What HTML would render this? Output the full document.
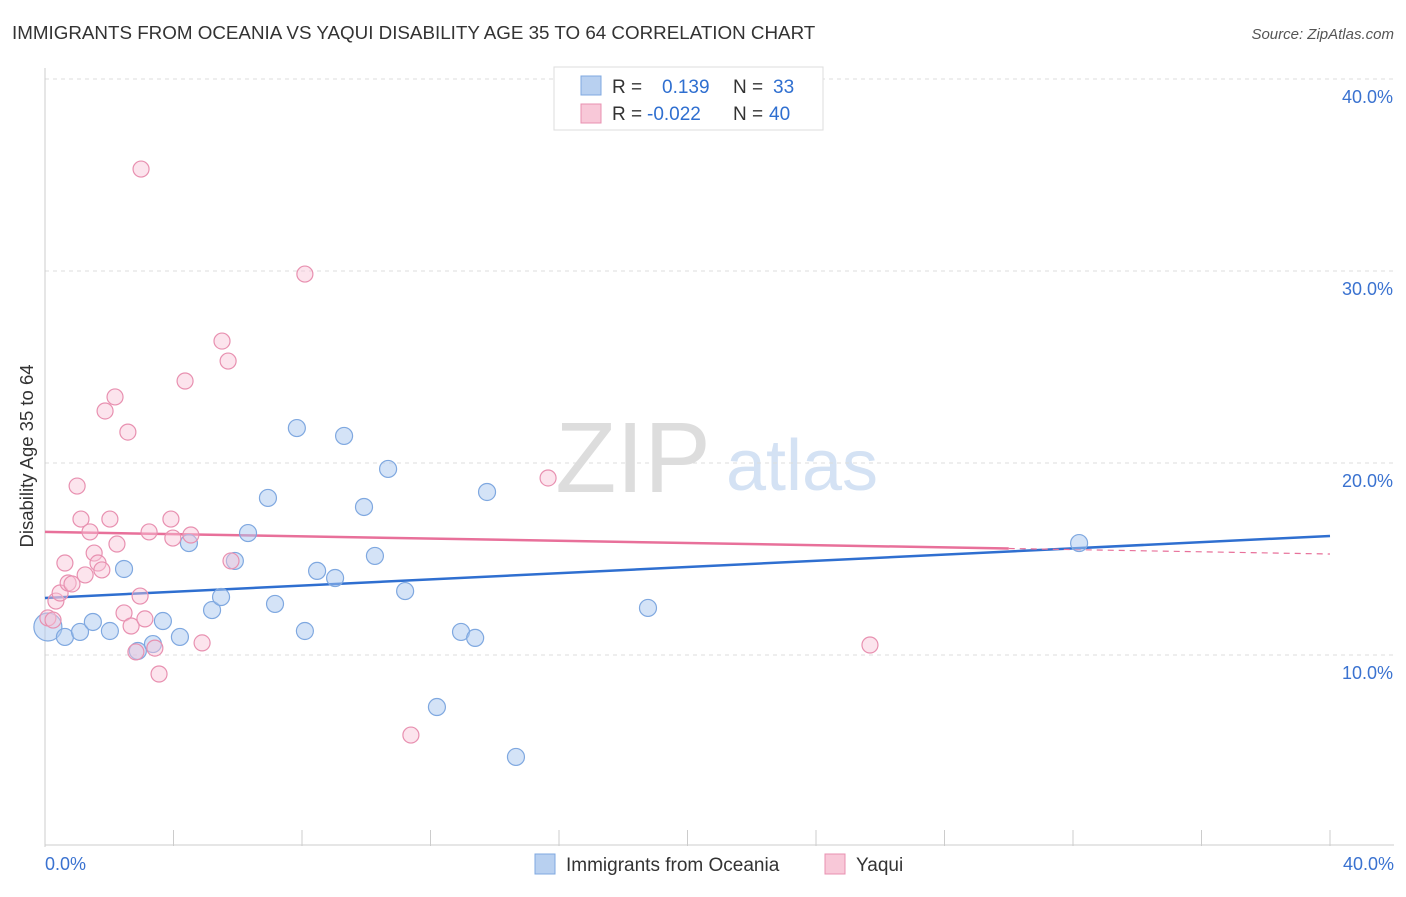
<!DOCTYPE html>
<html><head><meta charset="utf-8"><style>
body{margin:0;background:#fff;font-family:"Liberation Sans",sans-serif;}
svg text{font-family:"Liberation Sans",sans-serif;}
</style></head><body>
<svg id="c" width="1406" height="892" viewBox="0 0 1406 892">
<text x="12" y="39" font-size="18.8" fill="#333">IMMIGRANTS FROM OCEANIA VS YAQUI DISABILITY AGE 35 TO 64 CORRELATION CHART</text>
<text x="1394" y="39" font-size="15" fill="#555" font-style="italic" text-anchor="end">Source: ZipAtlas.com</text>
<text x="33" y="456" font-size="18.5" fill="#333" text-anchor="middle" transform="rotate(-90 33 456)">Disability Age 35 to 64</text>
<text x="633" y="492" font-size="100" fill="#ddd" font-family="Liberation Serif" text-anchor="middle">ZIP</text>
<text x="802" y="490" font-size="72" fill="#d4e2f4" text-anchor="middle">atlas</text>
<g id="grid"></g><g id="axes"></g><g id="lines"></g><g id="pts"></g>
<g>
<rect x="554" y="67" width="269" height="63" fill="#fff" stroke="#ddd"/>
<rect x="581" y="76" width="20" height="19" fill="#b8d0f0" stroke="#7fa8e0"/>
<text x="612" y="93" font-size="19" fill="#333">R =</text><text x="662" y="93" font-size="19" fill="#2f6fd0">0.139</text>
<text x="733" y="93" font-size="19" fill="#333">N =</text><text x="773" y="93" font-size="19" fill="#2f6fd0">33</text>
<rect x="581" y="104" width="20" height="19" fill="#f8c8d8" stroke="#e890b0"/>
<text x="612" y="120" font-size="19" fill="#333">R =</text><text x="647" y="120" font-size="19" fill="#2f6fd0">-0.022</text>
<text x="733" y="120" font-size="19" fill="#333">N =</text><text x="769" y="120" font-size="19" fill="#2f6fd0">40</text>
</g>
<g>
<rect x="535" y="854" width="20" height="20" fill="#b8d0f0" stroke="#7fa8e0"/>
<text x="566" y="871" font-size="19" fill="#333">Immigrants from Oceania</text>
<rect x="825" y="854" width="20" height="20" fill="#f8c8d8" stroke="#e890b0"/>
<text x="856" y="871" font-size="19" fill="#333">Yaqui</text>
</g>
</svg>
<script>
const yTicks=[10,20,30,40];
const yTickLabels=["10.0%","20.0%","30.0%","40.0%"];
const blueX=[0.09,0.62,1.09,1.49,2.02,2.46,2.89,3.36,3.67,4.20,4.48,5.20,5.48,5.91,6.32,6.94,7.16,7.84,8.09,8.47,9.03,9.31,9.93,10.27,10.68,11.21,12.20,12.95,13.39,13.76,14.66,18.77,32.19];
const blueY=[11.46,10.94,11.20,11.72,11.25,14.48,10.21,10.57,11.77,10.94,15.83,12.34,13.02,14.90,16.35,18.18,12.66,21.82,11.25,14.38,14.01,21.41,17.71,15.16,19.69,13.33,7.29,11.20,10.89,18.49,4.69,12.45,15.83];
const pinkX=[0.09,0.25,0.34,0.47,0.62,0.72,0.84,1.00,1.12,1.25,1.40,1.53,1.65,1.77,1.87,2.02,2.18,2.24,2.46,2.58,2.68,2.83,2.96,2.99,3.11,3.24,3.42,3.55,3.92,3.98,4.36,4.54,4.89,5.51,5.70,5.79,8.09,11.39,15.66,25.68];
const pinkY=[11.93,11.82,12.81,13.23,14.79,13.75,13.70,18.80,17.08,14.17,16.41,15.31,14.79,14.43,22.71,17.08,23.44,15.78,12.19,21.61,11.51,10.16,13.07,35.31,11.88,16.41,10.36,9.01,17.08,16.09,24.27,16.25,10.63,26.35,25.31,14.90,29.84,5.83,19.22,10.52];
const blueTrend=[12.97,16.20];
const pinkTrend=[16.41,15.26];
const pinkSolidEnd=30;
const X=v=>45+v*(1330-45)/40, Y=v=>847-v*19.2;
const NS="http://www.w3.org/2000/svg";
function mk(tag,attrs,parent){const e=document.createElementNS(NS,tag);for(const k in attrs)e.setAttribute(k,attrs[k]);document.getElementById(parent).appendChild(e);return e;}
yTicks.forEach((t,i)=>{
 const l=mk('line',{x1:45,x2:1394,y1:Y(t),y2:Y(t),stroke:'#ddd','stroke-dasharray':'4,4'},'grid');
 
 
 const tx=mk('text',{x:1393,y:Y(t)+24,'font-size':18,fill:'#3a72d0','text-anchor':'end'},'grid');tx.textContent=yTickLabels[i];
 
 
});
mk('line',{x1:45,x2:45,y1:68,y2:847,stroke:'#ccc'},'axes');
mk('line',{x1:45,x2:1394,y1:845,y2:845,stroke:'#ccc'},'axes');
for(let i=0;i<=10;i++){const t=mk('line',{x1:X(i*4),x2:X(i*4),y1:830,y2:846,stroke:'#ccc'},'axes');
 
 }
let a=mk('text',{x:45,y:870,'font-size':18,fill:'#3a72d0'},'axes');a.textContent='0.0%';


a=mk('text',{x:1394,y:870,'font-size':18,fill:'#3a72d0','text-anchor':'end'},'axes');a.textContent='40.0%';


function trendY(tr,x){return tr[0]+(tr[1]-tr[0])*x/40;}
let bl=mk('line',{x1:X(0),y1:Y(blueTrend[0]),x2:X(40),y2:Y(blueTrend[1]),stroke:'#2f6fd0','stroke-width':2.5},'lines');


let pl=mk('line',{x1:X(0),y1:Y(pinkTrend[0]),x2:X(pinkSolidEnd),y2:Y(trendY(pinkTrend,pinkSolidEnd)),stroke:'#e8709a','stroke-width':2.5},'lines');


let pd=mk('line',{x1:X(pinkSolidEnd),y1:Y(trendY(pinkTrend,pinkSolidEnd)),x2:X(40),y2:Y(pinkTrend[1]),stroke:'#e8709a','stroke-width':1.2,'stroke-dasharray':'6,5'},'lines');


blueX.forEach((x,i)=>{const c=mk('circle',{cx:X(x),cy:Y(blueY[i]),r:i==0?14:8.5,fill:'rgba(170,200,240,0.5)',stroke:'#7fa8e0','stroke-width':1.2},'pts');
 
 });
pinkX.forEach((x,i)=>{const c=mk('circle',{cx:X(x),cy:Y(pinkY[i]),r:8,fill:'rgba(248,195,215,0.45)',stroke:'#e890b0','stroke-width':1.2},'pts');
 
 });
</script>
</body></html>
